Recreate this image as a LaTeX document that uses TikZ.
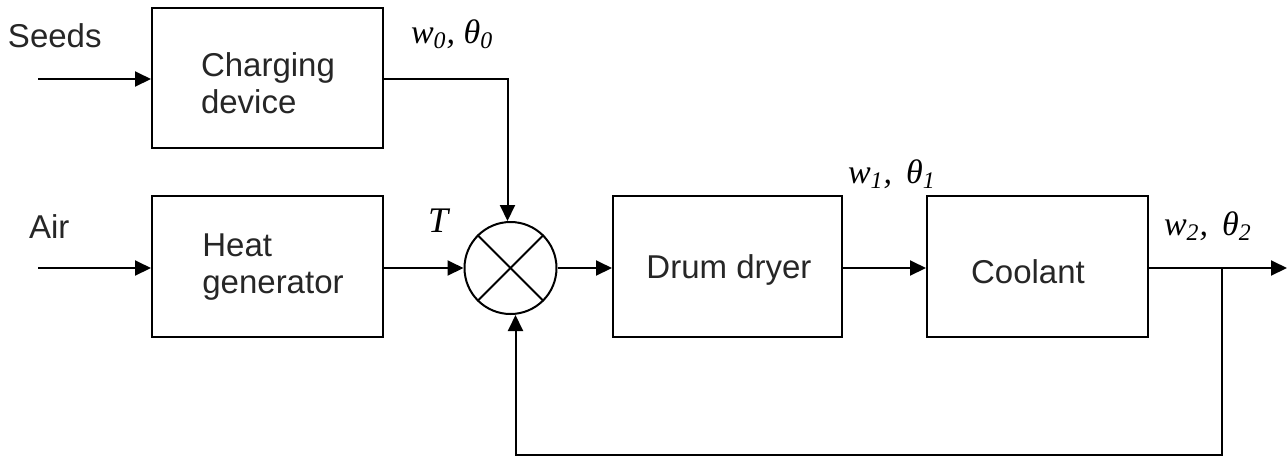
\documentclass[tikz,border=0pt]{standalone}
\usepackage{fontspec}
\setmainfont{Liberation Sans}
\newfontfamily\tnrfont{Liberation Serif}
\usetikzlibrary{arrows.meta}
\newcommand\mylab[2]{#1\textsubscript{#2}}
\begin{document}
\begin{tikzpicture}[x=0.5pt,y=-0.5pt,
  line width=1pt,
  arr/.style={-{Triangle[length=8pt,width=7.5pt]}},
  blk/.style={draw, line width=1pt, inner sep=0pt, minimum height=70.5pt},
  boxtxt/.style={font=\fontsize{16.5}{18.5}\selectfont, text=black!85, inner sep=0pt},
  lbl/.style={font=\tnrfont\itshape\fontsize{17}{20}\selectfont, inner sep=0pt, anchor=base west},
  inlbl/.style={font=\fontsize{16.5}{18.5}\selectfont, text=black!85, inner sep=0pt, anchor=base west}
]
\useasboundingbox (0,0) rectangle (1287,457);
% blocks
\node[blk, minimum width=115.5pt, minimum height=70pt] (cd) at (267.5,78) {};
\node[blk, minimum width=115.5pt] (hg) at (267.5,266.5) {};
\node[blk, minimum width=114.5pt] (dd) at (727.5,266.5) {};
\node[blk, minimum width=110.5pt] (co) at (1037.5,266.5) {};
\node[draw, circle, line width=1pt, minimum size=46pt, inner sep=0pt] (sj) at (510.5,268) {};
\draw (sj.north west) -- (sj.south east);
\draw (sj.north east) -- (sj.south west);
% texts in blocks
\node[boxtxt, align=left] (cdt) at (268,83) {Charging\\device};
\node[boxtxt, align=left] (hgt) at (273,267) {Heat\\generator};
\node[boxtxt, anchor=base] (ddt) at (729,278) {Drum dryer};
\node[boxtxt, anchor=base] (cot) at (1028,283) {Coolant};
% outside texts
\node[inlbl] (seeds) at (7,47) {Seeds};
\node[inlbl] (air) at (28,238) {Air};
\node[lbl] (l0) at (410,43) {\mylab{w}{0}, \mylab{θ}{0}};
\node[lbl, font=\tnrfont\itshape\fontsize{18}{20}\selectfont] (lT) at (427,232) {T};
\node[lbl] (l1) at (847,183) {\mylab{w}{1},\, \mylab{θ}{1}};
\node[lbl] (l2) at (1163,235) {\mylab{w}{2},\, \mylab{θ}{2}};
% coordinates
\coordinate (sin) at (38,79);
\coordinate (ain) at (38,268);
\coordinate (split) at (1222,268);
\coordinate (outp) at (1287,268);
\coordinate (fb) at (1222,455);
% connectors
\draw[arr] (sin) -- (cd.west |- sin);
\draw[arr] (ain) -- (hg.west |- ain);
\draw[arr] (cd.east |- sin) -| ([xshift=-1.5pt]sj.north);
\draw[arr] (hg.east |- ain) -- (sj.west);
\draw[arr] (sj.east) -- (dd.west |- sj.east);
\draw[arr] (dd.east |- ain) -- (co.west |- ain);
\draw[arr] (co.east |- ain) -- (outp);
\draw[arr] (split) -- (fb) -| ([xshift=2.5pt]sj.south);
\end{tikzpicture}
\end{document}
